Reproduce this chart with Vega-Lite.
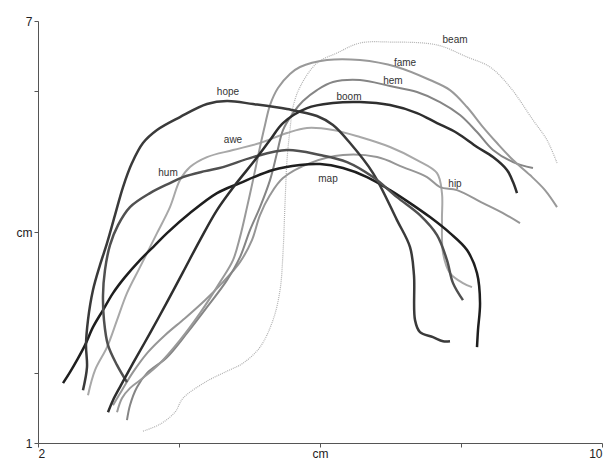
{
  "$schema": "https://vega.github.io/schema/vega-lite/v6.json",
  "width": 564,
  "height": 422,
  "autosize": "none",
  "padding": {"left": 38, "top": 21, "right": 6, "bottom": 20},
  "background": "white",
  "config": {"view": {"stroke": null}, "font": "Liberation Sans"},
  "datasets": {
    "curves": [
      {"s":"map","i":0,"x":2.355,"y":1.851},{"s":"map","i":1,"x":2.454,"y":2.007},{"s":"map","i":2,"x":2.553,"y":2.178},{"s":"map","i":3,"x":2.667,"y":2.391},{"s":"map","i":4,"x":2.78,"y":2.647},{"s":"map","i":5,"x":2.922,"y":2.889},{"s":"map","i":6,"x":3.064,"y":3.131},{"s":"map","i":7,"x":3.234,"y":3.358},{"s":"map","i":8,"x":3.447,"y":3.6},{"s":"map","i":9,"x":3.66,"y":3.814},{"s":"map","i":10,"x":3.83,"y":3.984},{"s":"map","i":11,"x":4.156,"y":4.269},{"s":"map","i":12,"x":4.539,"y":4.553},{"s":"map","i":13,"x":4.865,"y":4.696},{"s":"map","i":14,"x":5.333,"y":4.881},{"s":"map","i":15,"x":5.716,"y":4.952},{"s":"map","i":16,"x":6.0,"y":4.966},{"s":"map","i":17,"x":6.326,"y":4.909},{"s":"map","i":18,"x":6.667,"y":4.781},{"s":"map","i":19,"x":6.993,"y":4.596},{"s":"map","i":20,"x":7.277,"y":4.411},{"s":"map","i":21,"x":7.56,"y":4.212},{"s":"map","i":22,"x":7.844,"y":3.984},{"s":"map","i":23,"x":8.085,"y":3.743},{"s":"map","i":24,"x":8.227,"y":3.415},{"s":"map","i":25,"x":8.27,"y":2.989},{"s":"map","i":26,"x":8.241,"y":2.605},{"s":"map","i":27,"x":8.227,"y":2.363},

      {"s":"hope","i":0,"x":2.638,"y":1.751},{"s":"hope","i":1,"x":2.695,"y":2.078},{"s":"hope","i":2,"x":2.681,"y":2.391},{"s":"hope","i":3,"x":2.709,"y":2.747},{"s":"hope","i":4,"x":2.78,"y":3.174},{"s":"hope","i":5,"x":2.879,"y":3.529},{"s":"hope","i":6,"x":2.979,"y":3.842},{"s":"hope","i":7,"x":3.092,"y":4.24},{"s":"hope","i":8,"x":3.206,"y":4.639},{"s":"hope","i":9,"x":3.333,"y":4.98},{"s":"hope","i":10,"x":3.489,"y":5.265},{"s":"hope","i":11,"x":3.688,"y":5.45},{"s":"hope","i":12,"x":4.014,"y":5.634},{"s":"hope","i":13,"x":4.397,"y":5.819},{"s":"hope","i":14,"x":4.681,"y":5.862},{"s":"hope","i":15,"x":5.05,"y":5.819},{"s":"hope","i":16,"x":5.532,"y":5.748},{"s":"hope","i":17,"x":5.957,"y":5.649},{"s":"hope","i":18,"x":6.184,"y":5.521},{"s":"hope","i":19,"x":6.426,"y":5.265},{"s":"hope","i":20,"x":6.752,"y":4.838},{"s":"hope","i":21,"x":7.092,"y":4.169},{"s":"hope","i":22,"x":7.277,"y":3.785},{"s":"hope","i":23,"x":7.333,"y":3.387},{"s":"hope","i":24,"x":7.348,"y":2.747},{"s":"hope","i":25,"x":7.418,"y":2.576},{"s":"hope","i":26,"x":7.603,"y":2.505},{"s":"hope","i":27,"x":7.745,"y":2.448},{"s":"hope","i":28,"x":7.844,"y":2.448},

      {"s":"hum","i":0,"x":3.262,"y":1.865},{"s":"hum","i":1,"x":3.121,"y":2.107},{"s":"hum","i":2,"x":2.993,"y":2.391},{"s":"hum","i":3,"x":2.936,"y":2.747},{"s":"hum","i":4,"x":2.922,"y":3.102},{"s":"hum","i":5,"x":2.95,"y":3.458},{"s":"hum","i":6,"x":3.021,"y":3.814},{"s":"hum","i":7,"x":3.135,"y":4.098},{"s":"hum","i":8,"x":3.305,"y":4.354},{"s":"hum","i":9,"x":3.589,"y":4.553},{"s":"hum","i":10,"x":3.872,"y":4.696},{"s":"hum","i":11,"x":4.057,"y":4.781},{"s":"hum","i":12,"x":4.369,"y":4.866},{"s":"hum","i":13,"x":4.624,"y":4.923},{"s":"hum","i":14,"x":5.05,"y":5.065},{"s":"hum","i":15,"x":5.532,"y":5.165},{"s":"hum","i":16,"x":6.0,"y":5.094},{"s":"hum","i":17,"x":6.383,"y":4.994},{"s":"hum","i":18,"x":6.752,"y":4.781},{"s":"hum","i":19,"x":7.092,"y":4.496},{"s":"hum","i":20,"x":7.418,"y":4.24},{"s":"hum","i":21,"x":7.66,"y":3.956},{"s":"hum","i":22,"x":7.801,"y":3.6},{"s":"hum","i":23,"x":7.887,"y":3.273},{"s":"hum","i":24,"x":8.028,"y":3.031},

      {"s":"boom","i":0,"x":2.993,"y":1.438},{"s":"boom","i":1,"x":3.064,"y":1.609},{"s":"boom","i":2,"x":3.177,"y":1.822},{"s":"boom","i":3,"x":3.348,"y":2.135},{"s":"boom","i":4,"x":3.589,"y":2.562},{"s":"boom","i":5,"x":3.83,"y":3.003},{"s":"boom","i":6,"x":4.057,"y":3.43},{"s":"boom","i":7,"x":4.298,"y":3.885},{"s":"boom","i":8,"x":4.539,"y":4.312},{"s":"boom","i":9,"x":4.794,"y":4.667},{"s":"boom","i":10,"x":5.078,"y":5.023},{"s":"boom","i":11,"x":5.291,"y":5.307},{"s":"boom","i":12,"x":5.475,"y":5.549},{"s":"boom","i":13,"x":5.816,"y":5.762},{"s":"boom","i":14,"x":6.184,"y":5.834},{"s":"boom","i":15,"x":6.567,"y":5.848},{"s":"boom","i":16,"x":6.993,"y":5.805},{"s":"boom","i":17,"x":7.376,"y":5.691},{"s":"boom","i":18,"x":7.66,"y":5.549},{"s":"boom","i":19,"x":7.943,"y":5.407},{"s":"boom","i":20,"x":8.227,"y":5.208},{"s":"boom","i":21,"x":8.454,"y":5.065},{"s":"boom","i":22,"x":8.652,"y":4.881},{"s":"boom","i":23,"x":8.738,"y":4.71},{"s":"boom","i":24,"x":8.794,"y":4.553},

      {"s":"awe","i":0,"x":2.709,"y":1.68},{"s":"awe","i":1,"x":2.809,"y":2.036},{"s":"awe","i":2,"x":2.979,"y":2.363},{"s":"awe","i":3,"x":3.121,"y":2.747},{"s":"awe","i":4,"x":3.262,"y":3.131},{"s":"awe","i":5,"x":3.447,"y":3.501},{"s":"awe","i":6,"x":3.688,"y":3.984},{"s":"awe","i":7,"x":3.872,"y":4.354},{"s":"awe","i":8,"x":4.014,"y":4.738},{"s":"awe","i":9,"x":4.156,"y":4.923},{"s":"awe","i":10,"x":4.397,"y":5.065},{"s":"awe","i":11,"x":4.766,"y":5.165},{"s":"awe","i":12,"x":5.149,"y":5.265},{"s":"awe","i":13,"x":5.532,"y":5.407},{"s":"awe","i":14,"x":5.816,"y":5.478},{"s":"awe","i":15,"x":6.184,"y":5.45},{"s":"awe","i":16,"x":6.567,"y":5.35},{"s":"awe","i":17,"x":6.993,"y":5.208},{"s":"awe","i":18,"x":7.376,"y":5.023},{"s":"awe","i":19,"x":7.66,"y":4.838},{"s":"awe","i":20,"x":7.73,"y":4.553},{"s":"awe","i":21,"x":7.73,"y":4.169},{"s":"awe","i":22,"x":7.745,"y":3.7},{"s":"awe","i":23,"x":7.844,"y":3.415},{"s":"awe","i":24,"x":8.028,"y":3.273},{"s":"awe","i":25,"x":8.156,"y":3.216},

      {"s":"hip","i":0,"x":3.064,"y":1.538},{"s":"hip","i":1,"x":3.191,"y":1.751},{"s":"hip","i":2,"x":3.348,"y":2.007},{"s":"hip","i":3,"x":3.56,"y":2.292},{"s":"hip","i":4,"x":3.801,"y":2.533},{"s":"hip","i":5,"x":4.085,"y":2.775},{"s":"hip","i":6,"x":4.369,"y":3.031},{"s":"hip","i":7,"x":4.61,"y":3.273},{"s":"hip","i":8,"x":4.865,"y":3.572},{"s":"hip","i":9,"x":5.035,"y":3.885},{"s":"hip","i":10,"x":5.149,"y":4.24},{"s":"hip","i":11,"x":5.291,"y":4.525},{"s":"hip","i":12,"x":5.475,"y":4.767},{"s":"hip","i":13,"x":5.858,"y":4.98},{"s":"hip","i":14,"x":6.326,"y":5.094},{"s":"hip","i":15,"x":6.809,"y":5.065},{"s":"hip","i":16,"x":7.177,"y":4.923},{"s":"hip","i":17,"x":7.518,"y":4.781},{"s":"hip","i":18,"x":7.702,"y":4.639},{"s":"hip","i":19,"x":7.943,"y":4.596},{"s":"hip","i":20,"x":8.312,"y":4.411},{"s":"hip","i":21,"x":8.596,"y":4.269},{"s":"hip","i":22,"x":8.837,"y":4.127},

      {"s":"hem","i":0,"x":3.262,"y":1.324},{"s":"hem","i":1,"x":3.305,"y":1.538},{"s":"hem","i":2,"x":3.404,"y":1.794},{"s":"hem","i":3,"x":3.546,"y":1.993},{"s":"hem","i":4,"x":3.83,"y":2.22},{"s":"hem","i":5,"x":4.113,"y":2.562},{"s":"hem","i":6,"x":4.397,"y":2.932},{"s":"hem","i":7,"x":4.681,"y":3.316},{"s":"hem","i":8,"x":4.865,"y":3.643},{"s":"hem","i":9,"x":5.007,"y":4.027},{"s":"hem","i":10,"x":5.149,"y":4.354},{"s":"hem","i":11,"x":5.291,"y":4.738},{"s":"hem","i":12,"x":5.39,"y":5.122},{"s":"hem","i":13,"x":5.475,"y":5.45},{"s":"hem","i":14,"x":5.617,"y":5.691},{"s":"hem","i":15,"x":5.759,"y":5.862},{"s":"hem","i":16,"x":5.957,"y":6.018},{"s":"hem","i":17,"x":6.184,"y":6.132},{"s":"hem","i":18,"x":6.567,"y":6.162},{"s":"hem","i":19,"x":6.993,"y":6.075},{"s":"hem","i":20,"x":7.376,"y":5.99},{"s":"hem","i":21,"x":7.702,"y":5.848},{"s":"hem","i":22,"x":7.986,"y":5.663},{"s":"hem","i":23,"x":8.227,"y":5.421},{"s":"hem","i":24,"x":8.454,"y":5.165},{"s":"hem","i":25,"x":8.738,"y":4.994},{"s":"hem","i":26,"x":9.021,"y":4.909},

      {"s":"fame","i":0,"x":3.121,"y":1.438},{"s":"fame","i":1,"x":3.191,"y":1.637},{"s":"fame","i":2,"x":3.305,"y":1.78},{"s":"fame","i":3,"x":3.447,"y":1.893},{"s":"fame","i":4,"x":3.73,"y":2.135},{"s":"fame","i":5,"x":4.014,"y":2.462},{"s":"fame","i":6,"x":4.298,"y":2.846},{"s":"fame","i":7,"x":4.582,"y":3.287},{"s":"fame","i":8,"x":4.766,"y":3.6},{"s":"fame","i":9,"x":4.865,"y":3.927},{"s":"fame","i":10,"x":4.965,"y":4.354},{"s":"fame","i":11,"x":5.05,"y":4.738},{"s":"fame","i":12,"x":5.149,"y":5.208},{"s":"fame","i":13,"x":5.22,"y":5.521},{"s":"fame","i":14,"x":5.291,"y":5.805},{"s":"fame","i":15,"x":5.404,"y":6.047},{"s":"fame","i":16,"x":5.574,"y":6.246},{"s":"fame","i":17,"x":5.716,"y":6.346},{"s":"fame","i":18,"x":6.099,"y":6.445},{"s":"fame","i":19,"x":6.567,"y":6.445},{"s":"fame","i":20,"x":7.092,"y":6.346},{"s":"fame","i":21,"x":7.56,"y":6.161},{"s":"fame","i":22,"x":7.844,"y":6.018},{"s":"fame","i":23,"x":8.085,"y":5.777},{"s":"fame","i":24,"x":8.312,"y":5.492},{"s":"fame","i":25,"x":8.511,"y":5.265},{"s":"fame","i":26,"x":8.738,"y":5.023},{"s":"fame","i":27,"x":8.979,"y":4.809},{"s":"fame","i":28,"x":9.191,"y":4.596},{"s":"fame","i":29,"x":9.362,"y":4.354},

      {"s":"beam","i":0,"x":3.489,"y":1.168},{"s":"beam","i":1,"x":3.73,"y":1.267},{"s":"beam","i":2,"x":3.943,"y":1.438},{"s":"beam","i":3,"x":4.057,"y":1.637},{"s":"beam","i":4,"x":4.397,"y":1.879},{"s":"beam","i":5,"x":4.681,"y":2.021},{"s":"beam","i":6,"x":4.908,"y":2.135},{"s":"beam","i":7,"x":5.149,"y":2.363},{"s":"beam","i":8,"x":5.333,"y":2.747},{"s":"beam","i":9,"x":5.433,"y":3.174},{"s":"beam","i":10,"x":5.475,"y":3.7},{"s":"beam","i":11,"x":5.504,"y":4.411},{"s":"beam","i":12,"x":5.532,"y":5.023},{"s":"beam","i":13,"x":5.574,"y":5.45},{"s":"beam","i":14,"x":5.617,"y":5.777},{"s":"beam","i":15,"x":5.716,"y":6.061},{"s":"beam","i":16,"x":5.957,"y":6.403},{"s":"beam","i":17,"x":6.241,"y":6.545},{"s":"beam","i":18,"x":6.567,"y":6.687},{"s":"beam","i":19,"x":6.993,"y":6.701},{"s":"beam","i":20,"x":7.66,"y":6.659},{"s":"beam","i":21,"x":8.085,"y":6.488},{"s":"beam","i":22,"x":8.411,"y":6.346},{"s":"beam","i":23,"x":8.695,"y":6.061},{"s":"beam","i":24,"x":9.021,"y":5.592},{"s":"beam","i":25,"x":9.22,"y":5.307},{"s":"beam","i":26,"x":9.362,"y":4.98}
    ],
    "labels": [
      {"t":"beam","x":7.915,"y":6.73},
      {"t":"fame","x":7.206,"y":6.403},
      {"t":"hem","x":7.035,"y":6.147},
      {"t":"boom","x":6.411,"y":5.919},
      {"t":"hope","x":4.695,"y":5.99},
      {"t":"awe","x":4.766,"y":5.307},
      {"t":"hum","x":3.844,"y":4.838},
      {"t":"map","x":6.113,"y":4.752},
      {"t":"hip","x":7.915,"y":4.681}
    ]
  },
  "encoding": {
    "x": {"field": "x", "type": "quantitative",
      "scale": {"domain": [2, 10], "nice": false, "zero": false},
      "axis": {"title": null, "values": [2, 4, 6, 8, 10], "grid": false,
        "labelExpr": "datum.value == 6 ? 'cm' : (datum.value == 2 || datum.value == 10 ? datum.label : '')",
        "domainColor": "#555", "tickColor": "#555", "tickSize": 4, "labelColor": "#222", "labelFontSize": 12, "labelFont": "Liberation Sans", "labelPadding": 1}},
    "y": {"field": "y", "type": "quantitative",
      "scale": {"domain": [1, 7], "nice": false, "zero": false},
      "axis": {"title": null, "values": [1, 2, 4, 6, 7], "grid": false,
        "labelExpr": "datum.value == 4 ? 'cm' : (datum.value == 1 || datum.value == 7 ? datum.label : '')",
        "domainColor": "#555", "tickColor": "#555", "tickSize": 4, "labelColor": "#222", "labelFontSize": 12, "labelFont": "Liberation Sans", "labelPadding": 2}}
  },
  "layer": [
    {
      "data": {"name": "curves"},
      "transform": [{"filter": "datum.s == 'beam'"}],
      "mark": {"type": "line", "interpolate": "catmull-rom", "strokeWidth": 1.2, "strokeDash": [1, 1], "color": "#b0b0b0"},
      "encoding": {"detail": {"field": "s"}, "order": {"field": "i", "type": "quantitative"}}
    },
    {
      "data": {"name": "curves"},
      "transform": [{"filter": "datum.s == 'awe' || datum.s == 'hip' || datum.s == 'hem' || datum.s == 'fame'"}],
      "mark": {"type": "line", "interpolate": "catmull-rom", "strokeWidth": 2},
      "encoding": {
        "color": {"field": "s", "type": "nominal", "legend": null,
          "scale": {"domain": ["awe", "hip", "hem", "fame"], "range": ["#a8a8a8", "#969696", "#858585", "#999999"]}},
        "order": {"field": "i", "type": "quantitative"}}
    },
    {
      "data": {"name": "curves"},
      "transform": [{"filter": "datum.s == 'map' || datum.s == 'hope' || datum.s == 'hum' || datum.s == 'boom'"}],
      "mark": {"type": "line", "interpolate": "catmull-rom", "strokeWidth": 2.5},
      "encoding": {
        "stroke": {"field": "s", "type": "nominal", "legend": null,
          "scale": {"domain": ["map", "hope", "hum", "boom"], "range": ["#1e1e1e", "#3a3a3a", "#505050", "#2e2e2e"]}},
        "order": {"field": "i", "type": "quantitative"}}
    },
    {
      "data": {"name": "labels"},
      "mark": {"type": "text", "fontSize": 10, "font": "Liberation Sans", "color": "#333", "baseline": "middle", "align": "center"},
      "encoding": {"text": {"field": "t"}}
    }
  ]
}
